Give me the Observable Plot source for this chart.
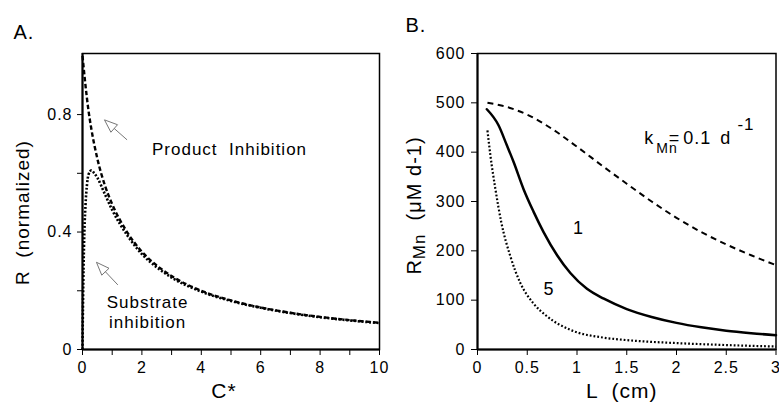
<!DOCTYPE html>
<html>
<head>
<meta charset="utf-8">
<script src="https://cdn.jsdelivr.net/npm/d3@7"></script>
<script src="https://cdn.jsdelivr.net/npm/@observablehq/plot@0.6"></script>
<style>
  body { margin: 0; background: white; }
  #chart { display: flex; width: 779px; height: 410px; background: white; }
</style>
</head>
<body>
<div id="chart"></div>
<script>
// ---------- Panel A data ----------
const prodC = [0, 0.1, 0.2, 0.3, 0.5, 0.75, 1, 1.5, 2, 2.5, 3, 4, 5, 6, 7, 8, 9, 10];
const prodR = [1.0, 0.9, 0.815, 0.75, 0.65, 0.56, 0.495, 0.4, 0.333, 0.286, 0.25, 0.2, 0.167, 0.143, 0.125, 0.111, 0.1, 0.091];
const subC = [0, 0.01, 0.02, 0.05, 0.1, 0.15, 0.2, 0.3, 0.4, 0.5, 0.75, 1, 1.5, 2, 2.5, 3, 4, 5, 6, 7, 8, 9, 10];
const subR = [0, 0.1, 0.18, 0.35, 0.49, 0.56, 0.595, 0.61, 0.6, 0.585, 0.53, 0.475, 0.39, 0.325, 0.28, 0.245, 0.197, 0.165, 0.142, 0.124, 0.11, 0.099, 0.09];
const xTicksA = [0, 1, 2, 3, 4, 5, 6, 7, 8, 9, 10];
const xTickLabelsA = ["0", "", "2", "", "4", "", "6", "", "8", "", "10"];
const yTicksA = [0, 0.2, 0.4, 0.6, 0.8];
const yTickLabelsA = ["0", "", "0.4", "", "0.8"];
const arrowTailC = [1.5, 1.19];
const arrowTailR = [0.714, 0.22];
const arrowTipC = [0.74, 0.47];
const arrowTipR = [0.782, 0.297];
const labelsA = ["Product  Inhibition", "Substrate\ninhibition"];
const labelsAC = [4.95, 2.19];
const labelsAR = [0.684, 0.129];

// ---------- Panel B data ----------
const dashL = [0.1, 0.25, 0.5, 0.75, 1, 1.25, 1.5, 1.75, 2, 2.25, 2.5, 2.75, 3];
const dashV = [500, 494, 476, 447, 411, 373, 336, 300, 267, 238, 213, 191, 171];
const solidL = [0.094, 0.21, 0.295, 0.363, 0.463, 0.564, 0.664, 0.8, 0.933, 1.1, 1.27, 1.5, 1.75, 2, 2.25, 2.5, 2.75, 3];
const solidV = [487, 455, 414, 380, 325, 279, 238, 191, 155, 123, 103, 82, 66, 54, 45, 38, 33, 29];
const dotL = [0.1, 0.13, 0.18, 0.24, 0.33, 0.43, 0.56, 0.7, 0.93, 1.27, 1.5, 2, 2.5, 3];
const dotV = [444, 393, 325, 257, 189, 135, 94, 67, 40, 24, 19, 13, 9, 6];
const xTicksB = [0, 0.5, 1, 1.5, 2, 2.5, 3];
const xTickLabelsB = ["0", "0.5", "1", "1.5", "2", "2.5", "3"];
const yTicksB = [0, 100, 200, 300, 400, 500, 600];
const yTickLabelsB = ["0", "100", "200", "300", "400", "500", "600"];
const curveLabelsB = ["1", "5"];
const curveLabelsBL = [1.016, 0.718];
const curveLabelsBV = [245, 123];
const kLabel = "kMn= 0.1 d-1";
const kLabelL = [1.677];
const kLabelV = [429];

const FONT = "'Liberation Sans', Arial, Helvetica, sans-serif";
const zip = (xs, ys) => xs.map((x, i) => ({x, y: ys[i]}));

// ---------- Panel A ----------
const arrowsA = arrowTailC.map((c, i) => ({x1: c, y1: arrowTailR[i], x2: arrowTipC[i], y2: arrowTipR[i]}));
const textA = labelsA.map((t, i) => ({t, x: labelsAC[i], y: labelsAR[i]}));

const plotA = Plot.plot({
  width: 390, height: 410,
  marginLeft: 82, marginRight: 11, marginTop: 53, marginBottom: 61,
  style: {fontFamily: FONT, fontSize: "16px", color: "black", background: "white", letterSpacing: "1px"},
  x: {domain: [0, 10]},
  y: {domain: [0, 1.008]},
  marks: [
    Plot.frame({stroke: "black", strokeWidth: 1.5}),
    Plot.axisX({ticks: xTicksA, tickFormat: d => xTickLabelsA[xTicksA.indexOf(d)], tickSize: 6, tickPadding: 6, label: null, stroke: "black", strokeWidth: 1}),
    Plot.axisY({ticks: yTicksA, tickFormat: d => yTickLabelsA[yTicksA.indexOf(d)], tickSize: 5, tickPadding: 5, label: null, stroke: "black", strokeWidth: 1}),
    Plot.ruleX([0], {stroke: "black", strokeWidth: 2}),
    Plot.ruleY([0], {stroke: "black", strokeWidth: 2}),
    Plot.line(zip(prodC, prodR), {x: "x", y: "y", stroke: "black", strokeWidth: 2.4, strokeDasharray: "4.5,2.5", strokeLinecap: "butt", curve: "monotone-x"}),
    Plot.line(zip(subC, subR), {x: "x", y: "y", stroke: "black", strokeWidth: 2.6, strokeDasharray: "2,1.8", strokeLinecap: "butt", curve: "monotone-x"}),
    Plot.link(arrowsA, {x1: "x1", y1: "y1", x2: "x2", y2: "y2", stroke: "#666", strokeWidth: 0.9}),
    Plot.text(textA, {x: "x", y: "y", text: "t", fontSize: 17, lineHeight: 1.15, fill: "black"}),
    Plot.text(["A."], {frameAnchor: "top-left", dx: -69, dy: -21, textAnchor: "start", lineAnchor: "middle", fontSize: 20, fill: "black"}),
    Plot.text(["C*"], {frameAnchor: "bottom", dx: -7, dy: 42, textAnchor: "middle", lineAnchor: "middle", fontSize: 21, fill: "black"}),
    Plot.text(["R  (normalized)"], {frameAnchor: "left", rotate: -90, dx: -59.5, dy: 11, textAnchor: "middle", lineAnchor: "middle", fontSize: 19, fill: "black"})
  ]
});

// ---------- Panel B ----------
const textB = curveLabelsB.map((t, i) => ({t, x: curveLabelsBL[i], y: curveLabelsBV[i]}));
const kData = [{t: kLabel, x: kLabelL[0], y: kLabelV[0]}];

const plotB = Plot.plot({
  width: 389, height: 410,
  marginLeft: 87, marginRight: 3.5, marginTop: 53, marginBottom: 61,
  style: {fontFamily: FONT, fontSize: "16px", color: "black", background: "white", letterSpacing: "1px"},
  x: {domain: [0, 3]},
  y: {domain: [0, 600]},
  marks: [
    Plot.frame({stroke: "black", strokeWidth: 1.5}),
    Plot.axisX({ticks: xTicksB, tickFormat: d => xTickLabelsB[xTicksB.indexOf(d)], tickSize: 6, tickPadding: 6, label: null, stroke: "black", strokeWidth: 1}),
    Plot.axisY({ticks: yTicksB, tickFormat: d => yTickLabelsB[yTicksB.indexOf(d)], tickSize: 6, tickPadding: 6, label: null, stroke: "black", strokeWidth: 1}),
    Plot.ruleX([0], {stroke: "black", strokeWidth: 2}),
    Plot.ruleY([0], {stroke: "black", strokeWidth: 2}),
    Plot.line(zip(dashL, dashV), {x: "x", y: "y", stroke: "black", strokeWidth: 2, strokeDasharray: "6,4.5", strokeLinecap: "butt", curve: "monotone-x"}),
    Plot.line(zip(solidL, solidV), {x: "x", y: "y", stroke: "black", strokeWidth: 2.5, curve: "monotone-x"}),
    Plot.line(zip(dotL, dotV), {x: "x", y: "y", stroke: "black", strokeWidth: 2.2, strokeDasharray: "1.8,2", strokeLinecap: "butt", curve: "monotone-x"}),
    Plot.text(textB, {x: "x", y: "y", text: "t", fontSize: 18, fill: "black"}),
    Plot.text(kData, {x: "x", y: "y", text: "t", textAnchor: "start", fontSize: 18, fill: "black"}),
    Plot.text(["B."], {frameAnchor: "top-left", dx: -72, dy: -28.4, textAnchor: "start", lineAnchor: "middle", fontSize: 20, fill: "black"}),
    Plot.text(["L  (cm)"], {frameAnchor: "bottom", dx: -5, dy: 42, textAnchor: "middle", lineAnchor: "middle", fontSize: 21, fill: "black"}),
    Plot.text(["RMn  (μM d-1)"], {frameAnchor: "left", rotate: -90, dx: -63, dy: 4, textAnchor: "middle", lineAnchor: "middle", fontSize: 20, fill: "black"})
  ]
});

// ---- post-processing: hollow arrow heads ----
d3.select(plotA).selectAll("g[aria-label=link] path").each(function () {
  const nums = (this.getAttribute("d").match(/-?\d*\.?\d+(?:e-?\d+)?/g) || []).map(Number);
  if (nums.length < 4) return;
  const [x1, y1] = nums.slice(0, 2);
  const [x2, y2] = nums.slice(-2);
  const L = Math.hypot(x2 - x1, y2 - y1);
  const ux = (x2 - x1) / L, uy = (y2 - y1) / L;
  const hl = 13, hw = 5;
  const bx = x2 - hl * ux, by = y2 - hl * uy;
  const nx = -uy, ny = ux;
  const d = `M${x1},${y1}L${bx},${by}M${bx + hw * nx},${by + hw * ny}L${x2},${y2}L${bx - hw * nx},${by - hw * ny}Z`;
  d3.select(this).attr("d", d).attr("fill", "white");
});

// ---- post-processing: rich text (subscripts / superscripts) ----
d3.select(plotB).selectAll("text").each(function () {
  const t = this.textContent;
  const s = d3.select(this);
  if (t === kLabel) {
    s.text(null);
    s.append("tspan").text("k");
    s.append("tspan").attr("font-size", 14).attr("dx", 2).attr("dy", 9).text("Mn");
    s.append("tspan").attr("dx", -9).attr("dy", -9).text("=");
    s.append("tspan").attr("dx", 3).text("0.1");
    s.append("tspan").attr("dx", 9).text("d");
    s.append("tspan").attr("font-size", 17).attr("dx", 6).attr("dy", -14).text("-1");
  } else if (t === "RMn  (μM d-1)") {
    s.text(null);
    s.append("tspan").text("R");
    s.append("tspan").attr("font-size", 17).attr("dy", 4).text("Mn");
    s.append("tspan").attr("dy", -4).text("  (μM d-1)");
  }
});

document.getElementById("chart").append(plotA, plotB);
</script>
</body>
</html>
